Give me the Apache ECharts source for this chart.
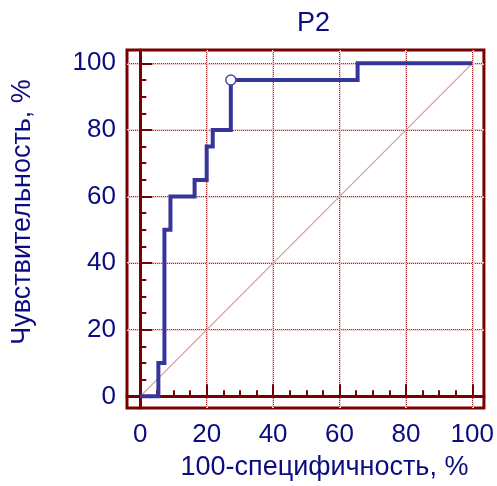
<!DOCTYPE html>
<html>
<head>
<meta charset="utf-8">
<script src="https://cdn.jsdelivr.net/npm/echarts@6/dist/echarts.min.js"></script>
<style>
html,body{margin:0;padding:0;background:#fff;}
#chart{width:497px;height:486px;}
</style>
</head>
<body>
<div id="chart"></div>
<script>
// ROC curve P2 (step points: 100-specificity, sensitivity)
var fpr = [0, 5.45, 7.27, 9.09, 16.36, 20, 21.82, 27.27, 65.45, 100];
var tpr = [0, 10, 50, 60, 65, 75, 80, 95, 100, 100];
var cutFpr = [27.27];
var cutTpr = [95];
var diagX = [0, 100];
var diagY = [0, 100];
var majorTicks = [0, 20, 40, 60, 80, 100];
var minorTicks = [5, 10, 15, 25, 30, 35, 45, 50, 55, 65, 70, 75, 85, 90, 95];
var titleText = 'P2';
var xName = '100-специфичность, %';
var yName = 'Чувствительность, %';

var maroon = '#780000';
var navy = '#0c0c82';
var font = 'Liberation Sans, Arial, sans-serif';

function zip(a, b) { return a.map(function (v, i) { return [v, b[i]]; }); }

function haloAxis(kind) {
  var ax = {
    type: 'value', position: kind === 'x' ? 'bottom' : 'left',
    min: kind === 'x' ? -4 : -3.5, max: kind === 'x' ? 103.5 : 104,
    axisLine: {show: false},
    axisTick: {show: false, customValues: majorTicks},
    axisLabel: {show: false},
    splitLine: {show: true, lineStyle: {color: '#f0d2d2', width: 2, type: 'solid'}}
  };
  return ax;
}

var chart = echarts.init(document.getElementById('chart'), null, {renderer: 'canvas'});
chart.setOption({
  animation: false,
  backgroundColor: '#fff',
  title: {
    text: titleText, left: 292, top: 5,
    textStyle: {color: navy, fontSize: 27, fontWeight: 'normal', fontFamily: font}
  },
  grid: {
    left: 127, right: 10, top: 50, bottom: 77,
    show: true, borderColor: maroon, borderWidth: 3, backgroundColor: 'transparent'
  },
  xAxis: [haloAxis('x'), {
    type: 'value', position: 'bottom', min: -4, max: 103.5,
    name: xName, nameLocation: 'middle', nameGap: 46,
    nameTextStyle: {color: navy, fontSize: 27, fontFamily: font, padding: [0, 0, 0, 38]},
    axisLine: {show: true, lineStyle: {color: maroon, width: 3}},
    axisTick: {show: true, inside: true, length: 12, customValues: majorTicks, lineStyle: {color: maroon, width: 2}},
    axisLabel: {show: true, customValues: majorTicks, margin: 14, color: navy, fontSize: 26, fontFamily: font},
    splitLine: {show: true, lineStyle: {color: '#a83030', type: 'dotted', width: 1}}
  }, {
    type: 'value', position: 'bottom', min: -4, max: 103.5,
    axisLine: {show: false},
    axisTick: {show: true, inside: true, length: 6, customValues: minorTicks, lineStyle: {color: maroon, width: 2}},
    axisLabel: {show: false},
    splitLine: {show: false}
  }],
  yAxis: [haloAxis('y'), {
    type: 'value', position: 'left', min: -3.5, max: 104,
    name: yName, nameLocation: 'middle', nameGap: 91, nameRotate: 90,
    nameTextStyle: {color: navy, fontSize: 27, fontFamily: font, padding: [0, 0, 0, 34]},
    axisLine: {show: true, lineStyle: {color: maroon, width: 3}},
    axisTick: {show: true, inside: true, length: 12, customValues: majorTicks, lineStyle: {color: maroon, width: 2}},
    axisLabel: {show: true, customValues: majorTicks, margin: 11, color: navy, fontSize: 26, fontFamily: font},
    splitLine: {show: true, lineStyle: {color: '#a83030', type: 'dotted', width: 1}}
  }, {
    type: 'value', position: 'left', min: -3.5, max: 104,
    axisLine: {show: false},
    axisTick: {show: true, inside: true, length: 6, customValues: minorTicks, lineStyle: {color: maroon, width: 2}},
    axisLabel: {show: false},
    splitLine: {show: false}
  }],
  series: [{
    type: 'line', xAxisIndex: 1, yAxisIndex: 1, data: zip(diagX, diagY), showSymbol: false, silent: true,
    lineStyle: {color: '#d49a9a', width: 1.2}, z: 2
  }, {
    type: 'line', xAxisIndex: 1, yAxisIndex: 1, data: zip(fpr, tpr), step: 'end', showSymbol: false,
    lineStyle: {color: '#35359a', width: 4, join: 'miter'}, z: 3
  }, {
    type: 'scatter', xAxisIndex: 1, yAxisIndex: 1, data: zip(cutFpr, cutTpr), symbol: 'circle', symbolSize: 10,
    itemStyle: {color: '#ffffff', borderColor: '#4a4aa4', borderWidth: 1.5, opacity: 1}, z: 4
  }]
});
</script>
</body>
</html>
